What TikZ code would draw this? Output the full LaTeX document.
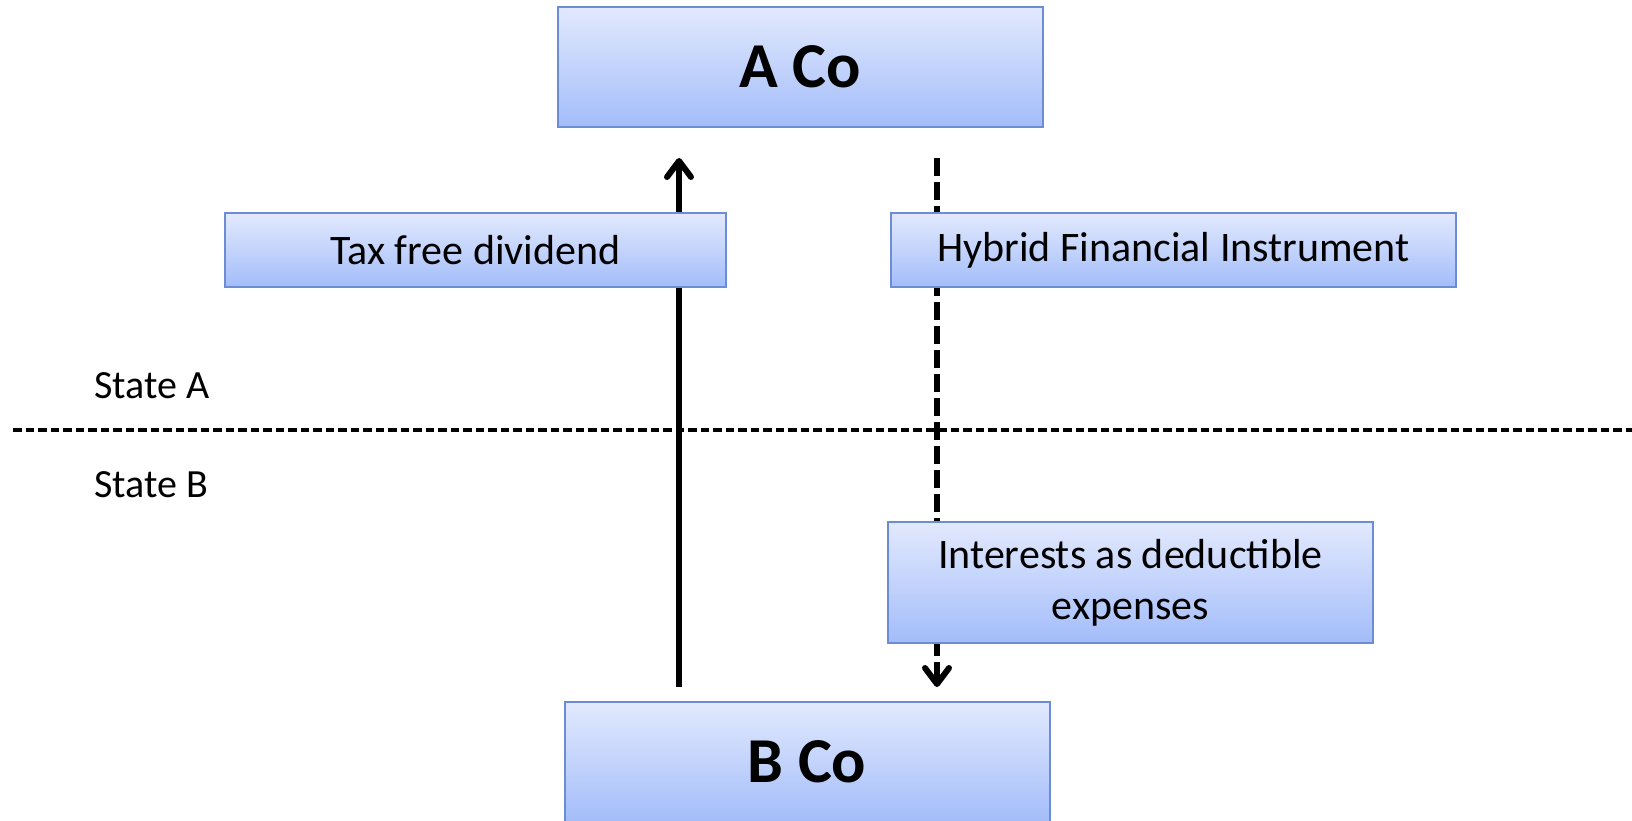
\documentclass[tikz,border=0pt]{standalone}
\usepackage{fontspec}
\setmainfont{Carlito}
\usetikzlibrary{arrows.meta,backgrounds}
\definecolor{boxtop}{RGB}{226,233,253}
\definecolor{boxbottom}{RGB}{163,189,250}
\definecolor{boxline}{RGB}{108,140,214}
\tikzset{
    bluebox/.style={draw=boxline, line width=2pt, top color=boxtop, bottom color=boxbottom,
        align=center, inner sep=0pt},
    company/.style={bluebox, minimum width=485pt, minimum height=120pt,
        font=\fontsize{64}{70}\selectfont\bfseries},
    flowlabel/.style={bluebox, minimum height=74pt, font=\fontsize{42}{51}\selectfont},
    statelabel/.style={anchor=base west, inner sep=0pt, font=\fontsize{40}{48}\selectfont},
    flow/.style={line width=5.5pt, -{Straight Barb[round,line width=6pt,length=16pt,width=24pt]}},
}

\begin{document}
\begin{tikzpicture}[x=1pt,y=-1pt]
    \useasboundingbox (0,0) rectangle (1632,821);
    % companies
    \node[company] (ACo) at (800.5,67) {A Co};
    \node[company] (BCo) at (807,762) {B Co};
    % labels on the flows
    \node[flowlabel, minimum width=501pt] (dividend) at (475.5,250) {Tax free dividend};
    \node[flowlabel, minimum width=565pt] (hybrid) at (1173.5,250) {Hybrid Financial Instrument};
    \node[flowlabel, minimum width=485pt, minimum height=121pt] (interests) at (1130.5,582.5)
        {Interests as deductible\\expenses};
    % states
    \node[statelabel] (stateA) at (94,398) {State A};
    \node[statelabel] (stateB) at (94,497) {State B};
    \coordinate (borderL) at (13,430);
    \coordinate (borderR) at (1632,430);
    \draw[line width=3.5pt, dash pattern=on 8.5pt off 4pt] (borderL) -- (borderR);
    % flows, behind the boxes
    \coordinate (divfoot) at (679,687);
    \coordinate (divhead) at (679,158);
    \coordinate (hybfoot) at (937,158);
    \coordinate (hybhead) at (937,687);
    \begin{scope}[on background layer]
        \draw[flow] (divfoot) -- (divhead);
        \draw[flow, line width=6pt, dash pattern=on 18pt off 6pt] (hybfoot) -- (hybhead);
    \end{scope}
\end{tikzpicture}
\end{document}
